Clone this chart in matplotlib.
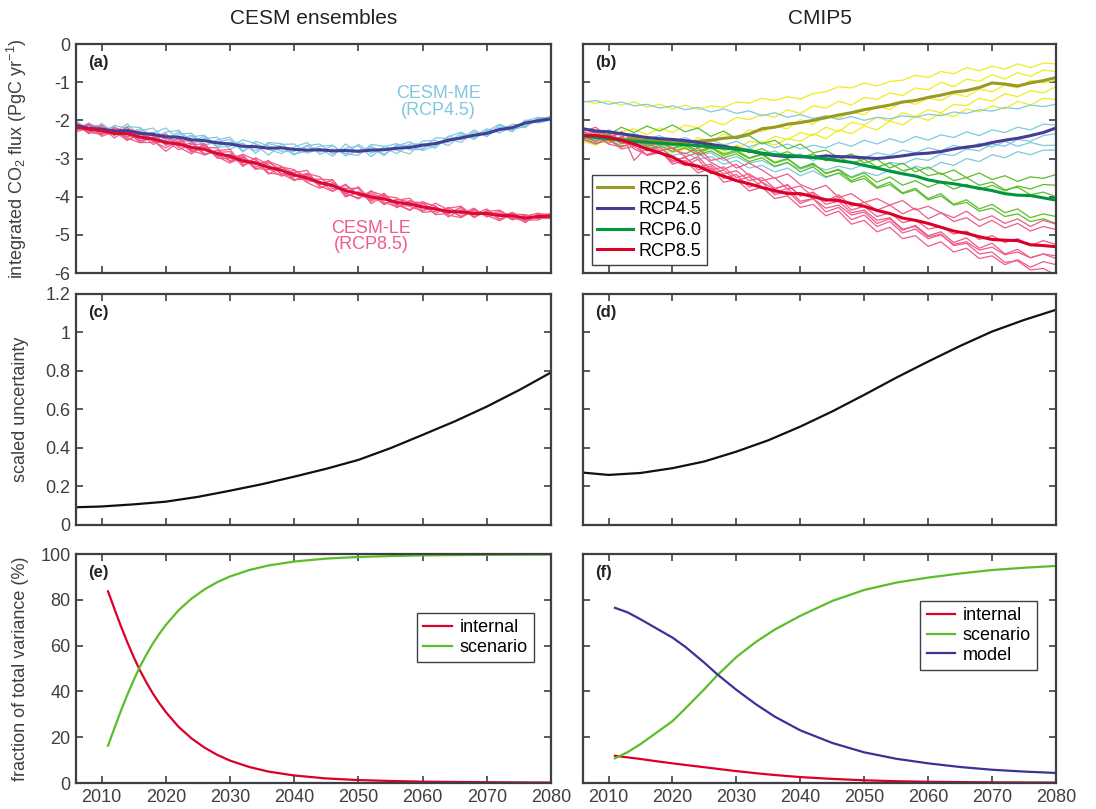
# -*- coding: utf-8 -*-
"""
CESM ensembles vs CMIP5: integrated CO2 flux, scaled uncertainty, variance fractions
"""
import numpy as np
import matplotlib
matplotlib.use("Agg")
import matplotlib.pyplot as plt

plt.rcParams["font.family"] = ["Liberation Sans", "DejaVu Sans"]
plt.rcParams["mathtext.default"] = "regular"
plt.rcParams["axes.unicode_minus"] = False

# ---------------------------------------------------------------------------
# data (every 2 years 2006..2080)
# ---------------------------------------------------------------------------
years = np.arange(2006, 2081, 2)

# (a) CESM-ME (RCP4.5) ensemble mean + members
me_mean = [-2.13, -2.21, -2.23, -2.28, -2.27, -2.34, -2.37, -2.43, -2.44, -2.51,
           -2.53, -2.59, -2.62, -2.68, -2.69, -2.73, -2.72, -2.76, -2.78, -2.77,
           -2.80, -2.79, -2.81, -2.78, -2.77, -2.73, -2.71, -2.65, -2.61, -2.52,
           -2.46, -2.39, -2.34, -2.24, -2.19, -2.07, -2.01, -1.96]
me_runs = [
    [-2.05, -2.33, -2.08, -2.33, -2.09, -2.43, -2.34, -2.20, -2.50, -2.39,
     -2.68, -2.51, -2.44, -2.79, -2.64, -2.91, -2.63, -2.62, -2.86, -2.74,
     -2.94, -2.62, -2.86, -2.67, -2.89, -2.67, -2.56, -2.74, -2.58, -2.58,
     -2.34, -2.50, -2.26, -2.27, -2.10, -2.15, -1.96, -1.90],
    [-2.22, -2.07, -2.26, -2.17, -2.42, -2.28, -2.20, -2.51, -2.30, -2.63,
     -2.48, -2.44, -2.76, -2.59, -2.86, -2.61, -2.69, -2.91, -2.67, -2.83,
     -2.66, -2.88, -2.63, -2.86, -2.72, -2.87, -2.62, -2.62, -2.73, -2.41,
     -2.51, -2.25, -2.43, -2.18, -2.30, -1.99, -2.07, -1.99],
    [-2.10, -2.27, -2.34, -2.13, -2.22, -2.48, -2.46, -2.31, -2.26, -2.56,
     -2.42, -2.71, -2.68, -2.51, -2.61, -2.76, -2.87, -2.70, -2.58, -2.89,
     -2.75, -2.87, -2.92, -2.63, -2.68, -2.78, -2.88, -2.54, -2.53, -2.66,
     -2.40, -2.42, -2.22, -2.33, -2.16, -2.19, -1.93, -1.94],
    [-2.18, -2.12, -2.15, -2.40, -2.16, -2.19, -2.43, -2.57, -2.36, -2.34,
     -2.64, -2.56, -2.50, -2.83, -2.55, -2.67, -2.81, -2.81, -2.66, -2.62,
     -2.88, -2.73, -2.67, -2.95, -2.69, -2.61, -2.77, -2.76, -2.46, -2.47,
     -2.58, -2.30, -2.39, -2.13, -2.27, -2.02, -1.92, -2.01],
    [-2.01, -2.24, -2.17, -2.25, -2.36, -2.22, -2.51, -2.37, -2.59, -2.43,
     -2.39, -2.68, -2.57, -2.62, -2.80, -2.58, -2.61, -2.88, -2.81, -2.68,
     -2.65, -2.93, -2.78, -2.72, -2.92, -2.64, -2.66, -2.79, -2.67, -2.43,
     -2.31, -2.47, -2.29, -2.10, -2.24, -2.16, -1.98, -1.91],
]

# (a) CESM-LE (RCP8.5) ensemble mean + members
le_mean = [-2.18, -2.23, -2.27, -2.34, -2.35, -2.44, -2.49, -2.58, -2.62, -2.71,
           -2.76, -2.87, -2.94, -3.06, -3.12, -3.23, -3.31, -3.43, -3.51, -3.63,
           -3.71, -3.84, -3.92, -4.01, -4.06, -4.15, -4.19, -4.27, -4.32, -4.39,
           -4.40, -4.44, -4.44, -4.49, -4.50, -4.56, -4.52, -4.51]
le_runs = [
    [-2.10, -2.35, -2.12, -2.39, -2.17, -2.53, -2.46, -2.35, -2.68, -2.59,
     -2.91, -2.79, -2.76, -3.17, -3.07, -3.41, -3.22, -3.29, -3.59, -3.60,
     -3.85, -3.67, -3.97, -3.90, -4.18, -4.09, -4.04, -4.36, -4.29, -4.45,
     -4.28, -4.55, -4.36, -4.52, -4.41, -4.64, -4.47, -4.45],
    [-2.27, -2.09, -2.30, -2.23, -2.50, -2.38, -2.32, -2.66, -2.48, -2.83,
     -2.71, -2.72, -3.08, -2.97, -3.29, -3.11, -3.28, -3.58, -3.40, -3.69,
     -3.57, -3.93, -3.74, -4.09, -4.01, -4.29, -4.10, -4.24, -4.44, -4.28,
     -4.45, -4.30, -4.53, -4.43, -4.61, -4.48, -4.58, -4.54],
    [-2.15, -2.29, -2.38, -2.19, -2.30, -2.58, -2.58, -2.46, -2.44, -2.76,
     -2.65, -2.99, -3.00, -2.89, -3.04, -3.26, -3.46, -3.37, -3.31, -3.75,
     -3.66, -3.92, -4.03, -3.86, -3.97, -4.20, -4.36, -4.16, -4.24, -4.53,
     -4.34, -4.47, -4.32, -4.58, -4.47, -4.68, -4.44, -4.49],
    [-2.23, -2.14, -2.19, -2.46, -2.24, -2.29, -2.55, -2.72, -2.54, -2.54,
     -2.87, -2.84, -2.82, -3.21, -2.98, -3.17, -3.40, -3.48, -3.39, -3.48,
     -3.79, -3.78, -3.78, -4.18, -3.98, -4.03, -4.25, -4.38, -4.17, -4.34,
     -4.52, -4.35, -4.49, -4.38, -4.58, -4.51, -4.43, -4.56],
    [-2.06, -2.26, -2.21, -2.31, -2.44, -2.32, -2.63, -2.52, -2.77, -2.63,
     -2.62, -2.96, -2.89, -3.00, -3.23, -3.08, -3.20, -3.55, -3.54, -3.54,
     -3.56, -3.98, -3.89, -3.95, -4.21, -4.06, -4.14, -4.41, -4.38, -4.30,
     -4.25, -4.52, -4.39, -4.35, -4.55, -4.65, -4.49, -4.46],
    [-2.26, -2.11, -2.42, -2.29, -2.53, -2.35, -2.52, -2.81, -2.56, -2.83,
     -2.61, -2.95, -3.12, -2.95, -3.17, -3.05, -3.40, -3.57, -3.43, -3.66,
     -3.57, -4.01, -3.87, -4.12, -3.94, -4.21, -4.34, -4.18, -4.35, -4.33,
     -4.52, -4.33, -4.52, -4.46, -4.59, -4.48, -4.57, -4.57],
    [-2.13, -2.32, -2.35, -2.22, -2.46, -2.59, -2.43, -2.44, -2.70, -2.88,
     -2.65, -2.90, -3.06, -2.91, -3.26, -3.29, -3.22, -3.38, -3.63, -3.78,
     -3.63, -3.90, -4.06, -3.84, -4.14, -4.27, -4.13, -4.16, -4.47, -4.44,
     -4.28, -4.53, -4.39, -4.60, -4.42, -4.61, -4.61, -4.46],
    [-2.30, -2.20, -2.33, -2.37, -2.26, -2.56, -2.35, -2.64, -2.47, -2.79,
     -2.90, -2.78, -2.99, -3.12, -3.01, -3.38, -3.42, -3.31, -3.48, -3.72,
     -3.86, -3.70, -3.95, -4.07, -3.91, -4.24, -4.24, -4.13, -4.26, -4.48,
     -4.55, -4.36, -4.49, -4.63, -4.45, -4.47, -4.55, -4.56],
]

# (b) CMIP5 multi-model means
rcp26_mean = [-2.42, -2.45, -2.47, -2.50, -2.49, -2.53, -2.55, -2.54, -2.57, -2.55,
              -2.52, -2.47, -2.44, -2.36, -2.22, -2.18, -2.10, -2.06, -2.00, -1.93,
              -1.86, -1.80, -1.72, -1.66, -1.60, -1.52, -1.48, -1.40, -1.34, -1.26,
              -1.22, -1.14, -1.02, -1.05, -1.10, -1.02, -0.96, -0.88]
rcp45_mean = [-2.22, -2.28, -2.30, -2.35, -2.40, -2.45, -2.48, -2.50, -2.53, -2.58,
              -2.63, -2.68, -2.74, -2.80, -2.87, -2.92, -2.95, -2.95, -2.97, -2.93,
              -2.95, -2.96, -2.98, -3.00, -2.97, -2.93, -2.88, -2.86, -2.82, -2.75,
              -2.70, -2.66, -2.58, -2.52, -2.47, -2.40, -2.32, -2.20]
rcp60_mean = [-2.40, -2.45, -2.48, -2.52, -2.55, -2.57, -2.60, -2.62, -2.64, -2.66,
              -2.70, -2.72, -2.76, -2.80, -2.86, -2.90, -2.92, -2.94, -2.97, -3.01,
              -3.06, -3.10, -3.18, -3.25, -3.33, -3.40, -3.46, -3.56, -3.62, -3.66,
              -3.72, -3.78, -3.84, -3.92, -3.96, -3.97, -4.03, -4.09]
rcp85_mean = [-2.40, -2.40, -2.44, -2.52, -2.62, -2.75, -2.85, -2.96, -3.14, -3.20,
              -3.35, -3.46, -3.58, -3.66, -3.76, -3.84, -3.92, -3.92, -4.00, -4.08,
              -4.10, -4.18, -4.25, -4.36, -4.44, -4.56, -4.62, -4.70, -4.80, -4.90,
              -4.96, -5.05, -5.12, -5.14, -5.15, -5.26, -5.28, -5.31]

# (b) individual models per scenario
rcp26_runs = [
    [-1.50, -1.55, -1.50, -1.60, -1.52, -1.65, -1.58, -1.70, -1.60, -1.72,
     -1.62, -1.66, -1.52, -1.55, -1.42, -1.48, -1.38, -1.44, -1.30, -1.25,
     -1.12, -1.15, -1.02, -1.10, -0.98, -0.95, -0.82, -0.88, -0.72, -0.78,
     -0.62, -0.70, -0.58, -0.66, -0.52, -0.62, -0.50, -0.52],
    [-2.38, -2.25, -2.42, -2.30, -2.22, -2.38, -2.20, -2.32, -2.12, -2.20,
     -2.00, -2.12, -1.92, -1.98, -1.85, -1.92, -1.72, -1.82, -1.62, -1.68,
     -1.50, -1.60, -1.40, -1.45, -1.28, -1.35, -1.15, -1.20, -1.00, -1.12,
     -0.92, -0.98, -0.80, -0.92, -0.75, -0.85, -0.68, -0.72],
    [-2.45, -2.55, -2.38, -2.58, -2.42, -2.62, -2.48, -2.60, -2.68, -2.45,
     -2.58, -2.35, -2.48, -2.25, -2.30, -2.15, -2.22, -1.98, -2.10, -1.88,
     -1.95, -1.78, -1.85, -1.62, -1.72, -1.50, -1.58, -1.42, -1.48, -1.30,
     -1.38, -1.18, -1.25, -1.08, -1.15, -0.95, -1.02, -0.95],
    [-2.55, -2.65, -2.48, -2.70, -2.58, -2.76, -2.62, -2.82, -2.68, -2.85,
     -2.72, -2.62, -2.78, -2.55, -2.60, -2.42, -2.50, -2.32, -2.40, -2.18,
     -2.30, -2.05, -2.12, -1.92, -2.02, -1.80, -1.90, -1.72, -1.80, -1.58,
     -1.62, -1.42, -1.50, -1.30, -1.38, -1.22, -1.28, -1.12],
    [-2.50, -2.60, -2.55, -2.68, -2.62, -2.78, -2.70, -2.85, -2.75, -2.90,
     -2.72, -2.85, -2.65, -2.78, -2.55, -2.65, -2.48, -2.55, -2.35, -2.48,
     -2.25, -2.35, -2.15, -2.25, -2.02, -2.12, -1.90, -2.00, -1.82, -1.90,
     -1.70, -1.78, -1.62, -1.70, -1.50, -1.60, -1.42, -1.45],
]
rcp45_runs = [
    [-1.52, -1.48, -1.58, -1.52, -1.62, -1.58, -1.68, -1.62, -1.72, -1.66,
     -1.78, -1.70, -1.82, -1.75, -1.88, -1.80, -1.92, -1.85, -1.95, -1.88,
     -1.98, -1.90, -2.00, -1.92, -1.96, -1.88, -1.92, -1.84, -1.88, -1.78,
     -1.82, -1.72, -1.76, -1.66, -1.70, -1.60, -1.64, -1.58],
    [-2.40, -2.52, -2.38, -2.60, -2.55, -2.70, -2.62, -2.82, -2.72, -2.92,
     -2.85, -3.05, -2.95, -3.12, -3.05, -3.22, -3.12, -3.28, -3.18, -3.30,
     -3.20, -3.28, -3.15, -3.25, -3.10, -3.15, -3.00, -3.05, -2.88, -2.92,
     -2.75, -2.80, -2.62, -2.68, -2.50, -2.55, -2.40, -2.35],
    [-2.35, -2.25, -2.42, -2.35, -2.50, -2.42, -2.58, -2.50, -2.68, -2.58,
     -2.75, -2.65, -2.82, -2.72, -2.90, -2.80, -2.98, -2.88, -3.05, -2.92,
     -3.02, -2.90, -2.98, -2.85, -2.92, -2.78, -2.85, -2.72, -2.80, -2.65,
     -2.75, -2.60, -2.70, -2.55, -2.68, -2.58, -2.66, -2.65],
    [-2.50, -2.60, -2.45, -2.68, -2.62, -2.78, -2.72, -2.92, -2.85, -3.02,
     -2.95, -3.15, -3.05, -3.25, -3.18, -3.35, -3.25, -3.45, -3.32, -3.50,
     -3.38, -3.48, -3.35, -3.45, -3.30, -3.38, -3.20, -3.28, -3.10, -3.18,
     -3.00, -3.08, -2.90, -2.98, -2.82, -2.90, -2.78, -2.78],
    [-2.30, -2.38, -2.25, -2.42, -2.35, -2.48, -2.40, -2.55, -2.45, -2.60,
     -2.50, -2.65, -2.55, -2.70, -2.58, -2.72, -2.62, -2.75, -2.65, -2.72,
     -2.58, -2.68, -2.52, -2.62, -2.48, -2.58, -2.42, -2.52, -2.38, -2.45,
     -2.30, -2.40, -2.25, -2.32, -2.18, -2.25, -2.10, -2.12],
]
rcp60_runs = [
    [-2.40, -2.30, -2.38, -2.18, -2.32, -2.15, -2.28, -2.12, -2.30, -2.20,
     -2.42, -2.28, -2.48, -2.40, -2.62, -2.52, -2.75, -2.62, -2.85, -2.78,
     -2.98, -2.88, -3.12, -3.02, -3.25, -3.12, -3.35, -3.22, -3.42, -3.30,
     -3.50, -3.38, -3.55, -3.45, -3.60, -3.48, -3.52, -3.42],
    [-2.45, -2.55, -2.40, -2.60, -2.50, -2.68, -2.58, -2.75, -2.65, -2.85,
     -2.72, -2.92, -2.82, -3.00, -2.90, -3.12, -3.02, -3.25, -3.15, -3.38,
     -3.28, -3.50, -3.38, -3.62, -3.48, -3.70, -3.58, -3.75, -3.62, -3.80,
     -3.68, -3.82, -3.70, -3.85, -3.72, -3.80, -3.68, -3.70],
    [-2.35, -2.48, -2.40, -2.55, -2.45, -2.65, -2.55, -2.72, -2.62, -2.80,
     -2.70, -2.88, -2.78, -2.98, -2.88, -3.10, -3.00, -3.25, -3.12, -3.40,
     -3.30, -3.58, -3.45, -3.75, -3.62, -3.90, -3.78, -4.05, -3.92, -4.20,
     -4.08, -4.32, -4.20, -4.42, -4.32, -4.55, -4.45, -4.52],
    [-2.50, -2.60, -2.52, -2.68, -2.60, -2.75, -2.66, -2.82, -2.72, -2.90,
     -2.80, -2.98, -2.88, -3.08, -2.98, -3.20, -3.10, -3.35, -3.22, -3.48,
     -3.38, -3.62, -3.52, -3.78, -3.68, -3.92, -3.82, -4.08, -3.98, -4.22,
     -4.15, -4.38, -4.30, -4.52, -4.45, -4.65, -4.58, -4.70],
    [-2.30, -2.42, -2.35, -2.50, -2.42, -2.58, -2.50, -2.66, -2.56, -2.72,
     -2.62, -2.78, -2.68, -2.85, -2.74, -2.92, -2.82, -2.98, -2.88, -3.06,
     -2.96, -3.12, -3.02, -3.22, -3.12, -3.32, -3.24, -3.45, -3.38, -3.58,
     -3.50, -3.70, -3.62, -3.82, -3.75, -3.95, -3.88, -4.00],
]
rcp85_runs = [
    [-2.30, -2.18, -2.45, -2.30, -2.52, -2.62, -2.48, -2.75, -2.88, -2.72,
     -3.05, -2.98, -3.25, -3.12, -3.30, -3.52, -3.40, -3.68, -3.82, -3.70,
     -4.02, -3.92, -4.15, -4.05, -4.22, -4.10, -4.35, -4.25, -4.42, -4.55,
     -4.38, -4.62, -4.50, -4.70, -4.58, -4.78, -4.62, -4.72],
    [-2.40, -2.55, -2.35, -2.62, -2.55, -2.80, -2.70, -2.98, -3.10, -2.95,
     -3.30, -3.22, -3.50, -3.40, -3.62, -3.80, -3.68, -3.98, -3.88, -4.12,
     -3.95, -4.25, -4.15, -4.35, -4.22, -4.45, -4.30, -4.58, -4.42, -4.65,
     -4.55, -4.78, -4.62, -4.82, -4.70, -4.90, -4.78, -4.86],
    [-2.50, -2.38, -2.62, -2.70, -2.58, -2.92, -2.85, -3.05, -3.18, -3.02,
     -3.40, -3.30, -3.58, -3.48, -3.75, -3.90, -3.78, -4.12, -4.05, -4.30,
     -4.22, -4.48, -4.40, -4.70, -4.58, -4.88, -4.75, -5.02, -4.92, -5.20,
     -5.08, -5.35, -5.22, -5.50, -5.38, -5.60, -5.50, -5.62],
    [-2.30, -2.45, -2.60, -2.42, -2.75, -2.90, -2.78, -3.15, -3.05, -3.38,
     -3.25, -3.62, -3.55, -3.85, -3.75, -4.05, -3.98, -4.28, -4.20, -4.50,
     -4.38, -4.72, -4.62, -4.92, -4.80, -5.10, -5.02, -5.30, -5.18, -5.45,
     -5.35, -5.62, -5.55, -5.78, -5.65, -5.85, -5.70, -5.78],
    [-2.50, -2.62, -2.48, -2.75, -2.68, -2.90, -2.82, -3.05, -2.98, -3.22,
     -3.15, -3.40, -3.32, -3.58, -3.50, -3.78, -3.70, -3.98, -3.92, -4.20,
     -4.12, -4.42, -4.35, -4.62, -4.55, -4.85, -4.78, -5.05, -4.98, -5.28,
     -5.22, -5.50, -5.45, -5.72, -5.68, -5.92, -5.88, -6.05],
    [-2.40, -2.30, -2.52, -2.45, -2.68, -2.55, -2.80, -2.72, -2.95, -2.85,
     -3.10, -3.28, -3.15, -3.45, -3.58, -3.50, -3.80, -3.72, -4.00, -4.12,
     -4.02, -4.35, -4.25, -4.52, -4.42, -4.68, -4.60, -4.85, -4.78, -4.98,
     -4.90, -5.12, -5.02, -5.20, -5.10, -5.28, -5.15, -5.25],
    [-2.20, -2.35, -2.50, -2.30, -3.05, -2.70, -2.82, -3.10, -2.95, -3.30,
     -3.20, -3.52, -3.42, -3.75, -3.62, -3.95, -3.85, -4.18, -4.05, -4.40,
     -4.28, -4.60, -4.48, -4.78, -4.65, -4.95, -4.85, -5.10, -5.00, -5.25,
     -5.18, -5.40, -5.32, -5.52, -5.45, -5.60, -5.50, -5.55],
]

# (c) / (d) scaled uncertainty
unc_years = [2006, 2010, 2015, 2020, 2025, 2030, 2035, 2040, 2045, 2050,
             2055, 2060, 2065, 2070, 2075, 2080]
unc_cesm = [0.092, 0.096, 0.107, 0.121, 0.146, 0.178, 0.212, 0.251, 0.292, 0.338,
            0.399, 0.468, 0.538, 0.615, 0.700, 0.792]
unc_cmip = [0.272, 0.260, 0.270, 0.295, 0.330, 0.381, 0.440, 0.511, 0.590, 0.676,
            0.765, 0.849, 0.930, 1.005, 1.065, 1.118]

# (e) CESM fraction of variance (%)
fe_years = [2011, 2012, 2013, 2014, 2015, 2016, 2017, 2018, 2019, 2020,
            2022, 2024, 2026, 2028, 2030, 2033, 2036, 2040, 2045, 2050,
            2055, 2060, 2070, 2080]
fe_internal = [83.7, 76.0, 68.5, 61.5, 55.0, 49.0, 43.8, 39.0, 34.8, 31.0,
               24.5, 19.5, 15.5, 12.3, 9.8, 7.0, 5.0, 3.3, 2.0, 1.3,
               0.9, 0.6, 0.35, 0.2]
fe_scenario = [16.3, 24.0, 31.5, 38.5, 45.0, 51.0, 56.2, 61.0, 65.2, 69.0,
               75.5, 80.5, 84.5, 87.7, 90.2, 93.0, 95.0, 96.7, 98.0, 98.7,
               99.1, 99.4, 99.65, 99.8]

# (f) CMIP5 fraction of variance (%)
ff_years = [2011, 2013, 2015, 2017, 2020, 2022, 2025, 2027, 2030, 2033,
            2036, 2040, 2045, 2050, 2055, 2060, 2065, 2070, 2075, 2080]
ff_internal = [11.9, 11.2, 10.5, 9.7, 8.6, 7.9, 6.9, 6.2, 5.2, 4.3,
               3.5, 2.6, 1.8, 1.2, 0.8, 0.55, 0.4, 0.3, 0.25, 0.2]
ff_scenario = [10.8, 13.5, 17.0, 21.0, 27.0, 32.5, 41.0, 47.0, 55.0, 61.5,
               67.0, 73.0, 79.5, 84.3, 87.5, 89.7, 91.5, 93.0, 94.0, 94.8]
ff_model = [76.5, 74.5, 71.5, 68.3, 63.5, 59.5, 52.5, 47.5, 40.7, 34.5,
            29.0, 23.0, 17.5, 13.4, 10.6, 8.6, 7.0, 5.8, 5.0, 4.4]

# ---------------------------------------------------------------------------
# colours
# ---------------------------------------------------------------------------
GRAY = "#3c3f45"
C_ME_RUN, C_ME = "#7fc9e0", "#463c96"
C_LE_RUN, C_LE = "#ef5b8a", "#dc0a32"
C_26_RUN, C_26 = "#f0ec1e", "#999926"
C_45_RUN, C_45 = "#7fc9e0", "#463c96"
C_60_RUN, C_60 = "#5cbd2b", "#00963c"
C_85_RUN, C_85 = "#ef5b8a", "#dc0028"
C_INT, C_SCN, C_MOD = "#dc0028", "#5cbd2b", "#3c3296"

fig = plt.figure(figsize=(10.96, 8.09), dpi=100)

# axes boxes in figure fractions (left/right column, three rows)
cols = [(0.0693, 0.4334), (0.5319, 0.4316)]
rows = [(0.6625, 0.2831), (0.3511, 0.2855), (0.0321, 0.2831)]
axs = [[fig.add_axes([c[0], r[0], c[1], r[1]]) for c in cols] for r in rows]


def style(ax, ylim, yticks, ylabels, xlabels, fmt):
    ax.set_xlim(2006, 2080)
    ax.set_ylim(*ylim)
    ax.set_xticks(range(2010, 2081, 10))
    ax.set_yticks(yticks)
    ax.set_yticklabels([fmt % v for v in yticks])
    ax.tick_params(direction="in", length=5, width=1.2, top=True, right=True,
                   colors=GRAY, labelsize=13, pad=4,
                   labelleft=ylabels, labelbottom=xlabels)
    for sp in ax.spines.values():
        sp.set_color(GRAY)
        sp.set_linewidth(1.6)


def tag(ax, s):
    ax.text(0.025, 0.92, s, transform=ax.transAxes, fontsize=12,
            fontweight="bold", color="#222222", va="center", ha="left")


# ===========================================================================
# (a) CESM ensembles
# ===========================================================================
ax = axs[0][0]
for run in me_runs:
    ax.plot(years, run, color=C_ME_RUN, lw=0.9)
for run in le_runs:
    ax.plot(years, run, color=C_LE_RUN, lw=0.9)
ax.plot(years, me_mean, color=C_ME, lw=2.2)
ax.plot(years, le_mean, color=C_LE, lw=2.2)
ax.text(2062.5, -1.52, "CESM-ME\n(RCP4.5)", color=C_ME_RUN, fontsize=13,
        ha="center", va="center", linespacing=0.95)
ax.text(2052, -5.05, "CESM-LE\n(RCP8.5)", color=C_LE_RUN, fontsize=13,
        ha="center", va="center", linespacing=0.95)
style(ax, (-6, 0), list(range(-6, 1)), True, False, "%d")
ax.set_ylabel("integrated CO$_2$ flux (PgC yr$^{-1}$)", fontsize=13, color=GRAY)
ax.yaxis.set_label_coords(-0.098, 0.5)
tag(ax, "(a)")

# ===========================================================================
# (b) CMIP5
# ===========================================================================
ax = axs[0][1]
for runs, c in [(rcp26_runs, C_26_RUN), (rcp45_runs, C_45_RUN),
                (rcp60_runs, C_60_RUN), (rcp85_runs, C_85_RUN)]:
    for run in runs:
        ax.plot(years, run, color=c, lw=0.9)
ax.plot(years, rcp26_mean, color=C_26, lw=2.2, label="RCP2.6")
ax.plot(years, rcp45_mean, color=C_45, lw=2.2, label="RCP4.5")
ax.plot(years, rcp60_mean, color=C_60, lw=2.2, label="RCP6.0")
ax.plot(years, rcp85_mean, color=C_85, lw=2.2, label="RCP8.5")
style(ax, (-6, 0), list(range(-6, 1)), False, False, "%d")
leg = ax.legend(loc="lower left", bbox_to_anchor=(0.019, 0.035), borderaxespad=0,
                fontsize=13, fancybox=False, framealpha=1, edgecolor=GRAY,
                handlelength=2.0, handletextpad=0.3, labelspacing=0.2,
                borderpad=0.3)
leg.get_frame().set_linewidth(1.0)
tag(ax, "(b)")

# ===========================================================================
# (c)/(d) scaled uncertainty
# ===========================================================================
unc_ticks = [0, 0.2, 0.4, 0.6, 0.8, 1.0, 1.2]
ax = axs[1][0]
ax.plot(unc_years, unc_cesm, color="#111111", lw=1.6)
style(ax, (0, 1.2), unc_ticks, True, False, "%g")
ax.set_ylabel("scaled uncertainty", fontsize=13, color=GRAY)
ax.yaxis.set_label_coords(-0.098, 0.5)
tag(ax, "(c)")

ax = axs[1][1]
ax.plot(unc_years, unc_cmip, color="#111111", lw=1.6)
style(ax, (0, 1.2), unc_ticks, False, False, "%g")
tag(ax, "(d)")

# ===========================================================================
# (e)/(f) fraction of total variance
# ===========================================================================
frac_ticks = [0, 20, 40, 60, 80, 100]
legkw = dict(fontsize=13, fancybox=False, framealpha=1, edgecolor=GRAY,
             handlelength=1.6, handletextpad=0.4, labelspacing=0.15,
             borderpad=0.35, borderaxespad=0, loc="upper right")

ax = axs[2][0]
ax.plot(fe_years, fe_internal, color=C_INT, lw=1.6, label="internal")
ax.plot(fe_years, fe_scenario, color=C_SCN, lw=1.6, label="scenario")
style(ax, (0, 100), frac_ticks, True, True, "%d")
ax.set_ylabel("fraction of total variance (%)", fontsize=13, color=GRAY)
ax.yaxis.set_label_coords(-0.098, 0.5)
ax.legend(bbox_to_anchor=(0.964, 0.742), **legkw).get_frame().set_linewidth(1.0)
tag(ax, "(e)")

ax = axs[2][1]
ax.plot(ff_years, ff_internal, color=C_INT, lw=1.6, label="internal")
ax.plot(ff_years, ff_scenario, color=C_SCN, lw=1.6, label="scenario")
ax.plot(ff_years, ff_model, color=C_MOD, lw=1.6, label="model")
style(ax, (0, 100), frac_ticks, False, True, "%d")
ax.legend(bbox_to_anchor=(0.96, 0.795), **legkw).get_frame().set_linewidth(1.0)
tag(ax, "(f)")

# column titles
fig.text(0.2858, 1 - 18 / 809, "CESM ensembles", fontsize=15, color="#222222",
         ha="center", va="center")
fig.text(0.7477, 1 - 18 / 809, "CMIP5", fontsize=15, color="#222222",
         ha="center", va="center")

fig.savefig("out.png", dpi=100)
